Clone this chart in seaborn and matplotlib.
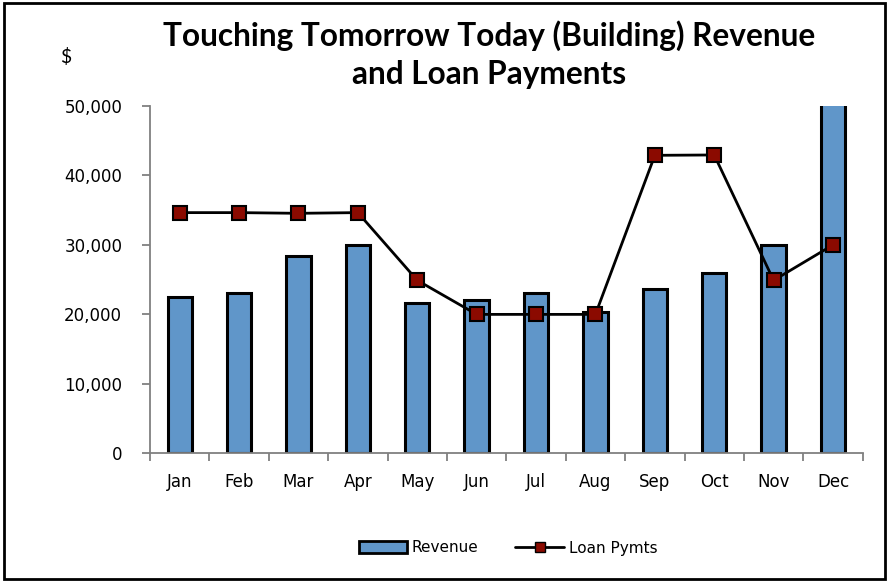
import matplotlib
matplotlib.use("Agg")
import matplotlib.pyplot as plt
import seaborn as sns
import pandas as pd
from matplotlib.patches import Rectangle, Patch
from matplotlib.lines import Line2D
from matplotlib.ticker import FuncFormatter, FixedLocator

months = ["Jan", "Feb", "Mar", "Apr", "May", "Jun", "Jul", "Aug", "Sep", "Oct", "Nov", "Dec"]
revenue = [22550, 23100, 28450, 30000, 21600, 22000, 23100, 20400, 23650, 26000, 29950, 56000]
loan_pymts = [34650, 34650, 34550, 34650, 24900, 20000, 20000, 20000, 42900, 42950, 24900, 30000]
y_ticks = [0, 10000, 20000, 30000, 40000, 50000]

sns.set_theme(style="white")
plt.rcParams["font.family"] = ["DejaVu Sans"]
plt.rcParams["text.color"] = "black"

df = pd.DataFrame({"Month": months, "Revenue": revenue, "Loan": loan_pymts})

fig = plt.figure(figsize=(8.88, 5.81), dpi=100)
ax = fig.add_axes([150/888, 1-453.3/581, (862.7-150)/888, (453.3-106)/581])

sns.barplot(data=df, x="Month", y="Revenue", order=months, color="#6096C9",
            saturation=1, edgecolor="black", linewidth=2.2, width=0.41, ax=ax)
ax.plot(range(len(months)), df["Loan"], color="black", linewidth=2, marker="s",
        markersize=10, markerfacecolor="#8B0A00", markeredgecolor="black",
        markeredgewidth=1.5, zorder=5, clip_on=False)

ax.set_ylim(0, 50000)
ax.set_xlim(-0.5, len(months) - 0.5)
ax.set_xlabel("")
ax.set_ylabel("")
ax.yaxis.set_major_locator(FixedLocator(y_ticks))
ax.yaxis.set_major_formatter(FuncFormatter(lambda v, p: f"{int(v):,}"))
for s in ["top", "right"]:
    ax.spines[s].set_visible(False)
for s in ["left", "bottom"]:
    ax.spines[s].set_color("#808080")
    ax.spines[s].set_linewidth(1.3)
ax.set_xticks([i - 0.5 for i in range(len(months) + 1)], minor=True)
ax.tick_params(axis="x", which="major", length=0, pad=14, labelsize=12, labelcolor="black")
ax.tick_params(axis="x", which="minor", length=6, width=1.3, color="#808080", direction="out", bottom=True)
ax.tick_params(axis="y", which="major", length=6, width=1.3, color="#808080", direction="out",
               left=True, labelsize=12, labelcolor="black", pad=14)
for lab in ax.get_xticklabels() + ax.get_yticklabels():
    lab.set_family("DejaVu Sans")

fig.text(489/888, 1-36/581, "Touching Tomorrow Today (Building) Revenue", ha="center", va="center",
         fontsize=22.8, fontweight="bold", family="Lato", color="black")
fig.text(489/888, 1-74/581, "and Loan Payments", ha="center", va="center",
         fontsize=22.8, fontweight="bold", family="Lato", color="black")
fig.text(66/888, 1-57/581, "$", ha="center", va="center", fontsize=14, family="Lato", color="black")

handles = [Patch(facecolor="#6096C9", edgecolor="black", linewidth=2, label="Revenue"),
           Line2D([0], [0], color="black", linewidth=2, marker="s", markersize=7,
                  markerfacecolor="#8B0A00", markeredgecolor="black", label="Loan Pymts")]
leg = fig.legend(handles=handles, loc="center", bbox_to_anchor=(508/888, 1-548/581), ncol=2,
                 frameon=False, fontsize=11, handlelength=3.2, handleheight=0.8, columnspacing=2.4,
                 handletextpad=0.3)
for t in leg.get_texts():
    t.set_color("black")

fig.patches.append(Rectangle((4/888, 2/581), 881/888, 576/581, transform=fig.transFigure,
                             fill=False, edgecolor="black", linewidth=2, zorder=10))

fig.savefig("out.png", dpi=100)
